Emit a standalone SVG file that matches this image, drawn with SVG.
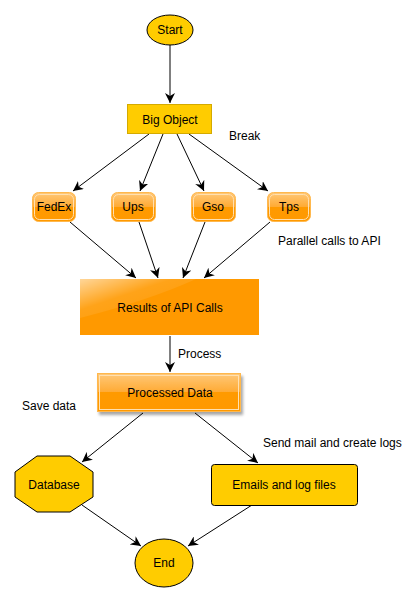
<svg xmlns="http://www.w3.org/2000/svg" width="419" height="601" viewBox="0 0 419 601">
<style>
text{font-family:"Liberation Sans",Arial,sans-serif;font-size:12px;fill:#000}
.c{text-anchor:middle}
.e{stroke:#000;stroke-width:1;fill:none;marker-end:url(#ah)}
.y{fill:#FFCC00;stroke:#000;stroke-width:1}
.o{fill:url(#og);stroke:#FFB84D;stroke-width:1}
.oi{fill:none;stroke:#FFE0B0;stroke-width:1}
</style>
<defs>
<marker id="ah" viewBox="0 0 10 10" refX="10" refY="5" markerWidth="10" markerHeight="10" markerUnits="userSpaceOnUse" orient="auto">
<path d="M0,0 L10,5 L0,10 L3,5 Z" fill="#000"/>
</marker>
<linearGradient id="og" x1="0" y1="0" x2="0" y2="1">
<stop offset="0" stop-color="#FFC878"/>
<stop offset="0.5" stop-color="#FFAA33"/>
<stop offset="0.5" stop-color="#FF9A00"/>
<stop offset="1" stop-color="#FF9900"/>
</linearGradient>
<linearGradient id="gl" x1="0" y1="0" x2="1" y2="1">
<stop offset="0" stop-color="#FFFFFF" stop-opacity="0.6"/>
<stop offset="0.4" stop-color="#FFFFFF" stop-opacity="0.1"/>
<stop offset="1" stop-color="#FFFFFF" stop-opacity="0"/>
</linearGradient>
<filter id="sh" x="-10%" y="-10%" width="130%" height="150%">
<feGaussianBlur in="SourceAlpha" stdDeviation="1.5"/>
<feOffset dx="2" dy="3"/>
<feComponentTransfer><feFuncA type="linear" slope="0.35"/></feComponentTransfer>
<feMerge><feMergeNode/><feMergeNode in="SourceGraphic"/></feMerge>
</filter>
</defs>
<rect width="419" height="601" fill="#fff"/>
<g id="connectors">
<line class="e" x1="170" y1="45" x2="170" y2="103"/>
<line class="e" x1="149" y1="134" x2="73" y2="191"/>
<line class="e" x1="163" y1="134" x2="140" y2="191"/>
<line class="e" x1="177" y1="134" x2="204" y2="191"/>
<line class="e" x1="189" y1="134" x2="268" y2="191"/>
<line class="e" x1="70" y1="222" x2="136" y2="278"/>
<line class="e" x1="139" y1="222" x2="158" y2="278"/>
<line class="e" x1="205" y1="222" x2="183" y2="278"/>
<line class="e" x1="270" y1="222" x2="204" y2="278"/>
<line class="e" x1="170" y1="336" x2="170" y2="372"/>
<line class="e" x1="143" y1="413" x2="82" y2="462"/>
<line class="e" x1="195" y1="413" x2="258" y2="463"/>
<line class="e" x1="82" y1="505" x2="141" y2="546"/>
<line class="e" x1="252" y1="505" x2="188" y2="546"/>
<text x="229" y="140">Break</text>
<text x="278" y="245">Parallel calls to API</text>
<text x="178" y="358">Process</text>
<text x="22" y="410">Save data</text>
<text x="263" y="447">Send mail and create logs</text>
</g>
<g id="start">
<ellipse class="y" cx="170" cy="30" rx="23" ry="15"/>
<text class="c" x="170" y="34">Start</text>
</g>
<g id="bigobject">
<rect x="127.5" y="104.5" width="84" height="29" fill="#FFCC00" stroke="#D4AA00"/>
<text class="c" x="170" y="124">Big Object</text>
</g>
<g id="fedex">
<rect class="o" x="32.5" y="192.5" width="43" height="29" rx="6"/>
<rect class="oi" x="34.5" y="194.5" width="39" height="25" rx="5"/>
<text class="c" x="54" y="211">FedEx</text>
</g>
<g id="ups">
<rect class="o" x="111.5" y="192.5" width="44" height="29" rx="6"/>
<rect class="oi" x="113.5" y="194.5" width="40" height="25" rx="5"/>
<text class="c" x="133" y="211">Ups</text>
</g>
<g id="gso">
<rect class="o" x="191.5" y="192.5" width="44" height="29" rx="6"/>
<rect class="oi" x="193.5" y="194.5" width="40" height="25" rx="5"/>
<text class="c" x="213" y="211">Gso</text>
</g>
<g id="tps">
<rect class="o" x="267.5" y="192.5" width="43" height="29" rx="6"/>
<rect class="oi" x="269.5" y="194.5" width="39" height="25" rx="5"/>
<text class="c" x="289" y="211">Tps</text>
</g>
<g id="results">
<rect x="80" y="279" width="179" height="56" fill="#FF9900"/>
<path d="M80,279 H196 Q150,300 80,318 Z" fill="url(#gl)"/>
<text class="c" x="170" y="312">Results of API Calls</text>
</g>
<g id="processed">
<rect class="o" x="97.5" y="373.5" width="143" height="38" filter="url(#sh)"/>
<rect class="oi" x="99.5" y="375.5" width="139" height="34"/>
<text class="c" x="170" y="397">Processed Data</text>
</g>
<g id="database">
<polygon class="y" points="37,456 70,456 93,472 93,497 70,512 37,512 15,497 15,472"/>
<text class="c" x="54" y="489">Database</text>
</g>
<g id="emails">
<rect class="y" x="211.5" y="464.5" width="146" height="41" rx="3"/>
<text class="c" x="284" y="489">Emails and log files</text>
</g>
<g id="end">
<ellipse class="y" cx="164" cy="563" rx="29" ry="24"/>
<text class="c" x="164" y="567">End</text>
</g>
</svg>
